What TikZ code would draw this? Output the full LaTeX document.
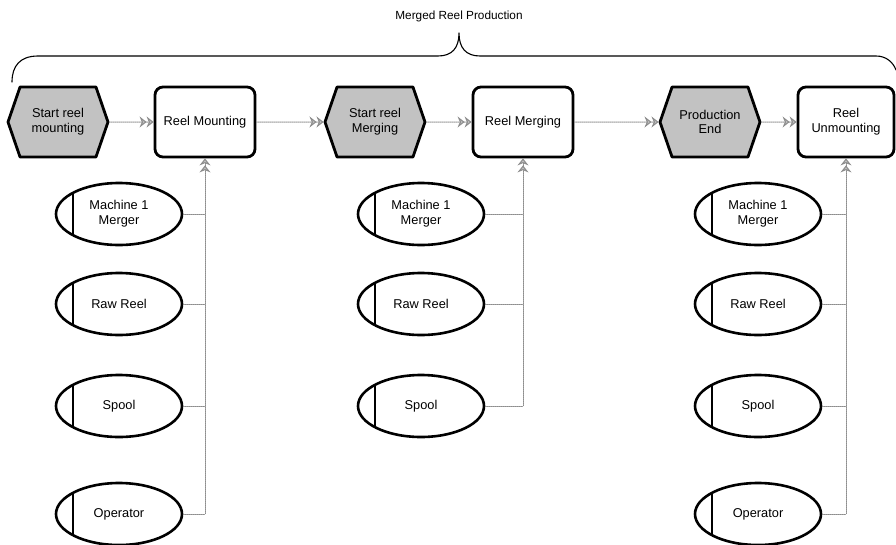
\documentclass[tikz,border=0pt]{standalone}
\usepackage{fontspec}
\setmainfont{Liberation Sans}
\usetikzlibrary{shapes.symbols,shapes.geometric,arrows.meta}

\begin{document}
\begin{tikzpicture}[x=1pt, y=-1pt, line cap=round, line join=round,
  txt/.style={font=\fontsize{12.8}{14.8}\selectfont, align=center},
  event/.style={txt, signal, signal to=west and east, signal pointer angle=142,
    draw, line width=2.8pt, fill=black!24, minimum width=100pt,
    minimum height=70pt, inner sep=0pt},
  func/.style={txt, rectangle, rounded corners=8pt, draw, line width=2.8pt,
    fill=white, minimum width=100pt, minimum height=70pt, inner sep=0pt},
  res/.style={txt, ellipse, draw, line width=2.6pt, minimum width=126pt,
    minimum height=62pt, inner sep=0pt,
    path picture={\draw[line width=2.4pt]
      ([xshift=17pt]path picture bounding box.north west) --
      ([xshift=17pt]path picture bounding box.south west);}},
  flow/.style={draw=black!45, densely dotted, line width=1pt,
    -{Stealth[length=7pt,width=11pt,fill=black!25]Stealth[length=7pt,width=11pt,fill=black!25]}},
  feed/.style={draw=black!45, densely dotted, line width=1pt}]

\useasboundingbox (0,0) rectangle (896,544);

% -----------------------
% Brace and title
% -----------------------
\node[txt, font=\fontsize{11.8}{13}\selectfont] (title) at (459,16) {Merged Reel Production};
\draw[line width=1.1pt] (12,82) .. controls (12,66) and (20,56) .. (38,56)
  -- (438,56) .. controls (452,56) and (459,48) .. (459,33)
  .. controls (459,48) and (466,56) .. (480,56)
  -- (876,56) .. controls (886,56) and (893,62) .. (896,70);

% -----------------------
% Process chain (events and functions)
% -----------------------
\node[event] (ev1) at (58,122)  {Start reel\\mounting};
\node[func]  (fn1) at (205,122) {Reel Mounting};
\node[event] (ev2) at (375,122) {Start reel\\Merging};
\node[func]  (fn2) at (523,122) {Reel Merging};
\node[event] (ev3) at (710,122) {Production\\End};
\node[func, minimum width=96pt] (fn3) at (846,122) {Reel\\Unmounting};

\draw[flow] (ev1) -- (fn1);
\draw[flow] (fn1) -- (ev2);
\draw[flow] (ev2) -- (fn2);
\draw[flow] (fn2) -- (ev3);
\draw[flow] (ev3) -- (fn3);

% -----------------------
% Resources of Reel Mounting
% -----------------------
\node[res] (mm1) at (119,214) {Machine 1\\Merger};
\node[res] (rr1) at (119,304) {Raw Reel};
\node[res] (sp1) at (119,406) {Spool};
\node[res] (op1) at (119,514) {Operator};

\draw[flow] (op1.east) -| (fn1.south);
\foreach \r in {mm1,rr1,sp1}
  \draw[feed] (\r.east) -- (\r.east -| fn1.south);

% -----------------------
% Resources of Reel Merging
% -----------------------
\node[res] (mm2) at (421,214) {Machine 1\\Merger};
\node[res] (rr2) at (421,304) {Raw Reel};
\node[res] (sp2) at (421,406) {Spool};

\draw[flow] (sp2.east) -| (fn2.south);
\foreach \r in {mm2,rr2}
  \draw[feed] (\r.east) -- (\r.east -| fn2.south);

% -----------------------
% Resources of Reel Unmounting
% -----------------------
\node[res] (mm3) at (758,214) {Machine 1\\Merger};
\node[res] (rr3) at (758,304) {Raw Reel};
\node[res] (sp3) at (758,406) {Spool};
\node[res] (op3) at (758,514) {Operator};

\draw[flow] (op3.east) -| (fn3.south);
\foreach \r in {mm3,rr3,sp3}
  \draw[feed] (\r.east) -- (\r.east -| fn3.south);

\end{tikzpicture}
\end{document}
